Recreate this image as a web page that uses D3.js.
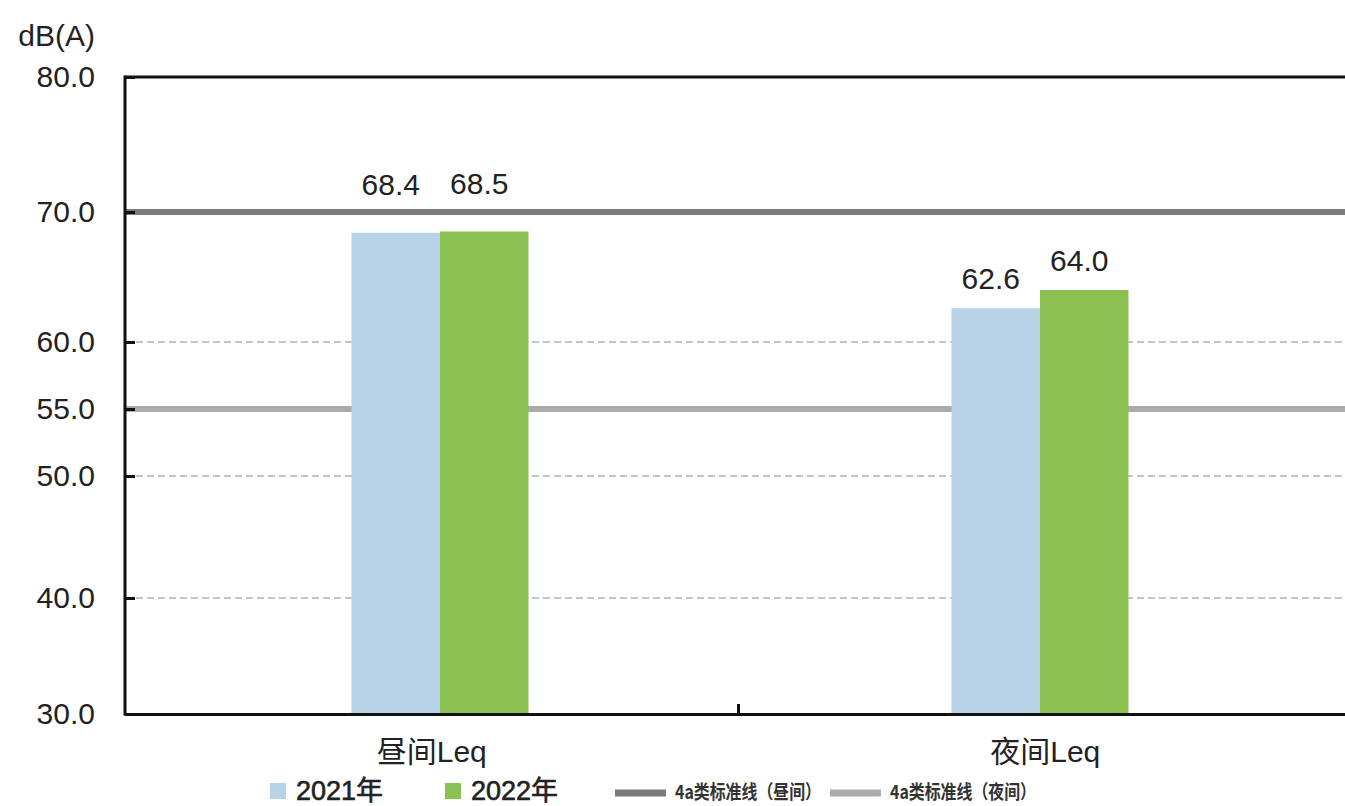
<!DOCTYPE html>
<html>
<head>
<meta charset="utf-8">
<script src="https://cdn.jsdelivr.net/npm/d3@7"></script>
<style>
  html, body { margin: 0; padding: 0; background: #fff; }
  svg text { font-family: "Liberation Sans", Arial, "Noto Sans CJK SC", sans-serif; fill: #222; }
</style>
</head>
<body>
<svg id="chart" width="1345" height="806"></svg>
<script>
// ---- data ----
const categories = ["昼间Leq", "夜间Leq"];
const seriesNames = ["2021年", "2022年"];
const values2021 = [68.4, 62.6];
const values2022 = [68.5, 64.0];
const yTicks = [30, 40, 50, 55, 60, 70, 80];
const gridValues = [40, 50, 60];
const standardNames = ["4a类标准线（昼间）", "4a类标准线（夜间）"];
const standardValues = [70, 55];
const yUnit = "dB(A)";

// ---- styles ----
const barColors = ["#b8d2e8", "#8bc152"];
const stdColors = ["#7b7b7b", "#ababab"];

const svg = d3.select("#chart");
const plotLeft = 125, plotRight = 1352, plotTop = 77, plotBottom = 714;

// axis is not evenly spaced in the original; use a polylinear scale matching its tick positions
const y = d3.scaleLinear()
  .domain(yTicks)
  .range([714, 598, 476, 409, 342, 212, 77]);

// category axis scale and bar-group placement scale
const x = d3.scaleBand().domain(categories).range([plotLeft, plotRight]).padding(0);
const xBars = d3.scaleBand().domain(categories).range([140, 1340]).padding(0);
const groupWidth = 177;
const xs = d3.scaleBand().domain(seriesNames).range([0, groupWidth]).padding(0);
const barX = (cat, s) => xBars(cat) + (xBars.bandwidth() - groupWidth) / 2 + xs(s);

// dashed grid lines
svg.append("g").selectAll("line").data(gridValues).join("line")
  .attr("x1", plotLeft).attr("x2", plotRight)
  .attr("y1", d => y(d)).attr("y2", d => y(d))
  .attr("stroke", "#c4c4c4").attr("stroke-width", 2)
  .attr("stroke-dasharray", "7,4");

// standard lines
svg.append("g").selectAll("line").data(standardValues).join("line")
  .attr("x1", plotLeft).attr("x2", plotRight)
  .attr("y1", d => y(d)).attr("y2", d => y(d))
  .attr("stroke", (d, i) => stdColors[i]).attr("stroke-width", 6);

// bars
const series = [values2021, values2022];
const barG = svg.append("g");
series.forEach((vals, si) => {
  barG.selectAll(null).data(vals).join("rect")
    .attr("x", (d, i) => barX(categories[i], seriesNames[si]))
    .attr("width", xs.bandwidth())
    .attr("y", d => y(d))
    .attr("height", d => y(30) - y(d))
    .attr("fill", barColors[si]);
});

// value labels (kept above the 70 line when bars reach it)
series.forEach((vals, si) => {
  barG.selectAll(null).data(vals).join("text")
    .attr("x", (d, i) => barX(categories[i], seriesNames[si]) + xs.bandwidth() / 2 - 5)
    .attr("y", d => {
      const yy = y(d);
      return (yy - y(70) < 30) ? yy - 48 : yy - 30;
    })
    .attr("dy", "0.35em")
    .attr("text-anchor", "middle")
    .style("font-size", "30px")
    .text(d => d.toFixed(1));
});

// y axis
const yAxis = d3.axisLeft(y).tickValues(yTicks).tickSize(-10).tickPadding(30)
  .tickFormat(d => d.toFixed(1));
const yg = svg.append("g").attr("transform", `translate(${plotLeft},0)`).call(yAxis);
yg.select(".domain").remove();
yg.selectAll(".tick line").attr("stroke", "#111").attr("stroke-width", 3);
yg.selectAll(".tick text").style("font-size", "30px").attr("fill", "#2a2a2a");

// frame lines
svg.append("line").attr("x1", plotLeft).attr("x2", plotLeft).attr("y1", plotTop - 1.5).attr("y2", plotBottom + 1.5)
  .attr("stroke", "#111").attr("stroke-width", 3);
svg.append("line").attr("x1", plotLeft).attr("x2", plotRight).attr("y1", plotTop).attr("y2", plotTop)
  .attr("stroke", "#111").attr("stroke-width", 3);

// x axis
const xAxis = d3.axisBottom(x).tickSize(0).tickPadding(27);
const xg = svg.append("g").attr("transform", `translate(0,${plotBottom})`).call(xAxis);
xg.select(".domain").attr("stroke", "#111").attr("stroke-width", 3);
xg.selectAll(".tick text").style("font-size", "30px").attr("fill", "#2a2a2a")
  .attr("font-family", "\"Liberation Sans\", \"Noto Sans CJK SC\", sans-serif");
// boundary tick between categories
svg.append("line")
  .attr("x1", x(categories[1])).attr("x2", x(categories[1]))
  .attr("y1", plotBottom).attr("y2", plotBottom - 10)
  .attr("stroke", "#111").attr("stroke-width", 3);

// unit label
svg.append("text").attr("x", 95).attr("y", 35).attr("dy", "0.35em")
  .attr("text-anchor", "end").style("font-size", "30px").attr("fill", "#2a2a2a").text(yUnit);

// legend
const leg = svg.append("g");
const legBarX = [270, 445];
seriesNames.forEach((n, i) => {
  leg.append("rect").attr("x", legBarX[i]).attr("y", 783).attr("width", 16).attr("height", 16)
    .attr("fill", barColors[i]);
  leg.append("text").attr("x", legBarX[i] + 26).attr("y", 791).attr("dy", "0.35em")
    .style("font-size", "27px").style("fill", "#222")
    .style("stroke", "#222").style("stroke-width", "0.6px").text(n);
});
const legLineX = [615, 830];
standardNames.forEach((n, i) => {
  leg.append("line").attr("x1", legLineX[i]).attr("x2", legLineX[i] + 51)
    .attr("y1", 793).attr("y2", 793)
    .attr("stroke", stdColors[i]).attr("stroke-width", 7);
  leg.append("text").attr("x", legLineX[i] + 60).attr("y", 792).attr("dy", "0.35em")
    .attr("textLength", 146).attr("lengthAdjust", "spacingAndGlyphs")
    .style("font-size", "19px").style("font-weight", "bold").style("fill", "#333")
    .style("font-family", "\"Noto Sans CJK SC\", sans-serif").text(n);
});
</script>
</body>
</html>
